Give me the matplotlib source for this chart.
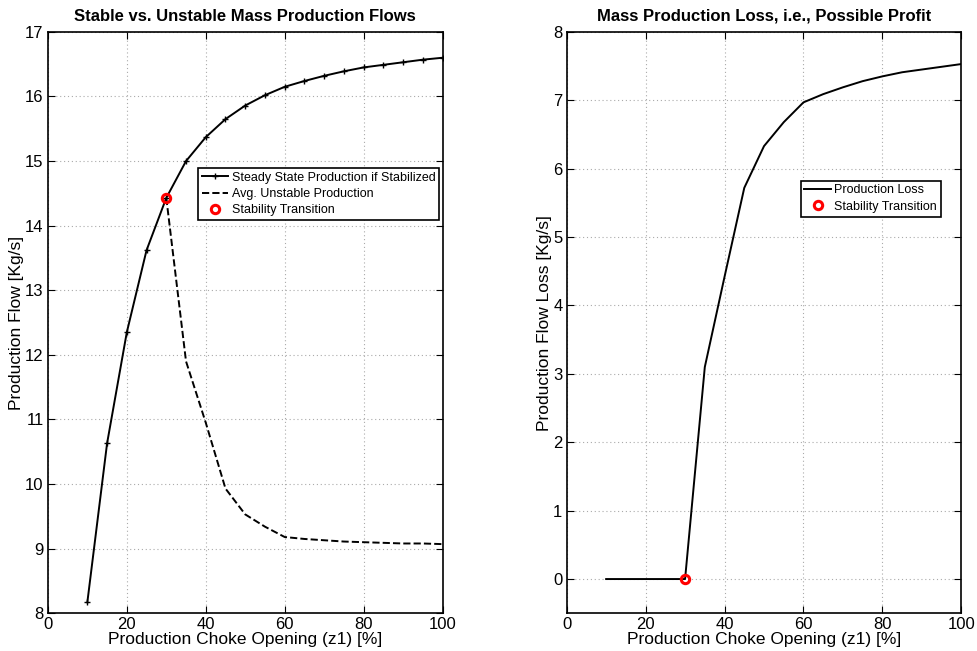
import numpy as np
import matplotlib
matplotlib.use('Agg')
import matplotlib.pyplot as plt

plt.rcParams['font.family'] = ['Liberation Sans', 'DejaVu Sans']

# choke opening [%]
z1 = [10, 15, 20, 25, 30, 35, 40, 45, 50, 55, 60, 65, 70, 75, 80, 85, 90, 95, 100]
# steady state production if stabilized [kg/s]
steady = [8.17, 10.63, 12.35, 13.62, 14.43, 15.0, 15.37, 15.65, 15.86, 16.02,
          16.15, 16.24, 16.32, 16.39, 16.45, 16.49, 16.53, 16.57, 16.60]
# average unstable production, starting at the transition point
z1_unstable = [30, 35, 40, 45, 50, 55, 60, 65, 70, 75, 80, 85, 90, 95, 100]
unstable = [14.43, 11.9, 10.95, 9.93, 9.53, 9.34, 9.18, 9.15, 9.13, 9.11,
            9.10, 9.09, 9.08, 9.08, 9.07]
# production loss (right plot)
loss = [0, 0, 0, 0, 0, 3.1, 4.42, 5.72, 6.33, 6.68, 6.97, 7.09, 7.19, 7.28,
        7.35, 7.41, 7.45, 7.49, 7.53]
# stability transition
trans_z1 = 30
trans_flow = 14.43
trans_loss = 0


def matlab_style(ax):
    ax.tick_params(direction='in', top=True, right=True, labelsize=12, length=5,
                   pad=3)
    ax.grid(True, linestyle=(0, (1, 2.5)), color='#aaaaaa', linewidth=0.8)
    for s in ax.spines.values():
        s.set_linewidth(1.2)


fig = plt.figure(figsize=(9.77, 6.51), dpi=100)
ax1 = fig.add_axes([0.049, 0.058, 0.404, 0.893])
ax2 = fig.add_axes([0.580, 0.058, 0.404, 0.893])

ax1.plot(z1, steady, 'k-', marker='+', markersize=5, linewidth=1.4,
         label='Steady State Production if Stabilized')
ax1.plot(z1_unstable, unstable, 'k--', linewidth=1.4, label='Avg. Unstable Production')
ax1.plot(trans_z1, trans_flow, 'o', mfc='none', mec='r', markersize=6, mew=2.2,
         label='Stability Transition')
ax1.set_xlim(0, 100)
ax1.set_ylim(8, 17)
ax1.set_xticks(np.arange(0, 101, 20))
ax1.set_yticks(np.arange(8, 18, 1))
matlab_style(ax1)
ax1.set_xlabel('Production Choke Opening (z1) [%]', fontsize=12.5, labelpad=0)
ax1.set_ylabel('Production Flow [Kg/s]', fontsize=12.5, labelpad=1)
ax1.set_title('Stable vs. Unstable Mass Production Flows', fontsize=12,
              fontweight='bold', pad=8)
leg1 = ax1.legend(loc='upper left', bbox_to_anchor=(0.38, 0.766), fontsize=9,
                  fancybox=False, edgecolor='k', framealpha=1, borderpad=0.3,
                  labelspacing=0.35, handlelength=2.1, handletextpad=0.3,
                  borderaxespad=0)
leg1.get_frame().set_linewidth(1.2)

ax2.plot(z1, loss, 'k-', linewidth=1.4, label='Production Loss')
ax2.plot(trans_z1, trans_loss, 'o', mfc='none', mec='r', markersize=6, mew=2.2,
         label='Stability Transition')
ax2.set_xlim(0, 100)
ax2.set_ylim(-0.5, 8)
ax2.set_xticks(np.arange(0, 101, 20))
ax2.set_yticks(np.arange(0, 9, 1))
matlab_style(ax2)
ax2.set_xlabel('Production Choke Opening (z1) [%]', fontsize=12.5, labelpad=0)
ax2.set_ylabel('Production Flow Loss [Kg/s]', fontsize=12.5, labelpad=1)
ax2.set_title('Mass Production Loss, i.e., Possible Profit', fontsize=12,
              fontweight='bold', pad=8)
leg2 = ax2.legend(loc='upper left', bbox_to_anchor=(0.593, 0.744), fontsize=9,
                  fancybox=False, edgecolor='k', framealpha=1, borderpad=0.3,
                  labelspacing=0.35, handlelength=2.1, handletextpad=0.3,
                  borderaxespad=0)
leg2.get_frame().set_linewidth(1.2)

fig.savefig('out.png', dpi=100)
